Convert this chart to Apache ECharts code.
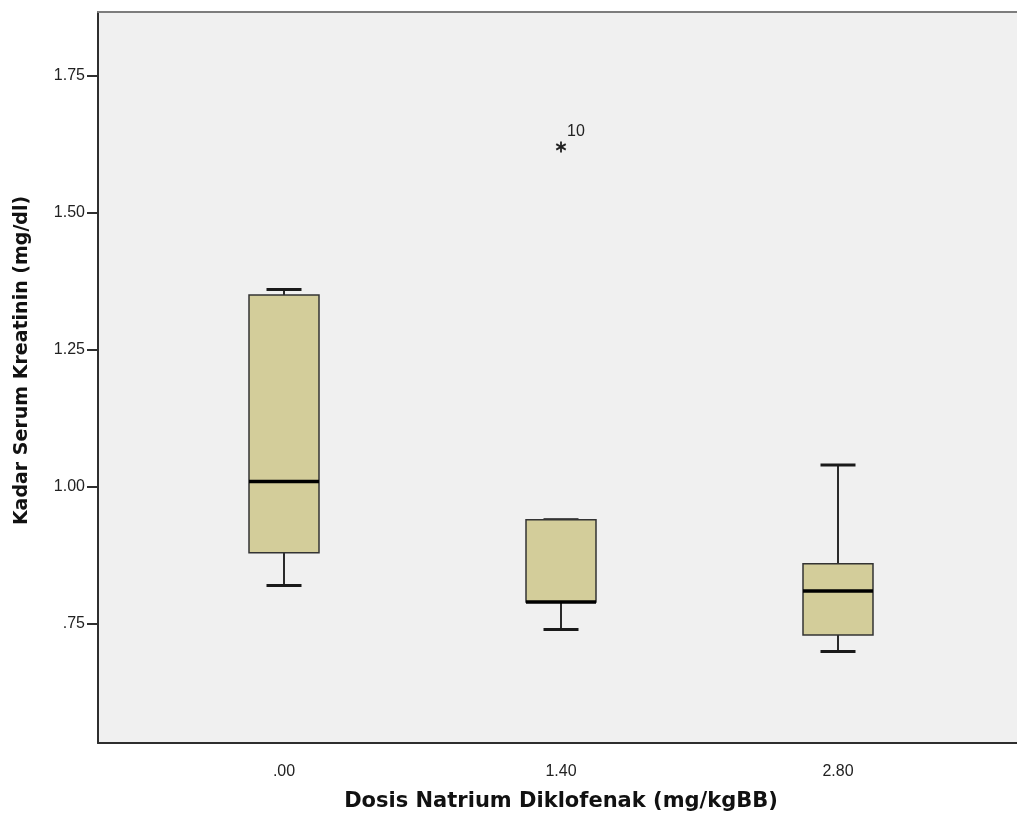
<!DOCTYPE html>
<html>
<head>
<meta charset="utf-8">
<script src="https://cdn.jsdelivr.net/npm/echarts@6/dist/echarts.min.js"></script>
<style>
  html, body { margin: 0; padding: 0; background: #ffffff; }
  #chart { width: 1017px; height: 823px; }
</style>
</head>
<body>
<div id="chart"></div>
<script>
// dose groups on the x axis
var categories = [".00", "1.40", "2.80"];
// box plot statistics per group (mg/dl)
var whiskerLow = [0.82, 0.74, 0.70];
var q1 = [0.88, 0.79, 0.73];
var median = [1.01, 0.79, 0.81];
var q3 = [1.35, 0.94, 0.86];
var whiskerHigh = [1.36, 0.94, 1.04];
// extreme values: group index, value, case label
var outlierGroup = [1];
var outlierValue = [1.62];
var outlierCase = ["10"];
// y axis tick labels
var yTicks = [0.75, 1.00, 1.25, 1.50, 1.75];
var yMin = 0.533;
var yMax = 1.866;

var font = "'Liberation Sans', Arial, sans-serif";
var titleFont = "'DejaVu Sans', Verdana, sans-serif";

var boxData = [];
for (var i = 0; i < categories.length; i++) {
  boxData.push([i, whiskerLow[i], q1[i], median[i], q3[i], whiskerHigh[i]]);
}
var outlierData = [];
for (var j = 0; j < outlierGroup.length; j++) {
  outlierData.push([outlierGroup[j], outlierValue[j], outlierCase[j]]);
}

var chart = echarts.init(document.getElementById("chart"));

var option = {
  animation: false,
  backgroundColor: "#ffffff",
  grid: [
    // frame of the plot
    { left: 98, top: 12, right: -10, bottom: 80, show: true, backgroundColor: "#f0f0f0", borderWidth: 0 },
    // boxes
    { left: 145.5, top: 12, width: 831, bottom: 80 }
  ],
  xAxis: [
    {
      gridIndex: 0, type: "value", min: 0, max: 1, position: "bottom",
      axisLine: { show: true, lineStyle: { color: "#2e2e2e", width: 2 } },
      axisTick: { show: false }, axisLabel: { show: false }, splitLine: { show: false }
    },
    {
      gridIndex: 1, type: "category", data: categories, boundaryGap: true,
      axisLine: { show: false }, axisTick: { show: false }, splitLine: { show: false },
      axisLabel: { fontFamily: font, fontSize: 16, color: "#222", margin: 21 },
      name: "Dosis Natrium Diklofenak (mg/kgBB)",
      nameLocation: "middle", nameGap: 48,
      nameTextStyle: { fontFamily: titleFont, fontSize: 21, fontWeight: "bold", color: "#111" }
    },
    {
      gridIndex: 0, type: "value", min: 0, max: 1, position: "top",
      axisLine: { show: true, lineStyle: { color: "#7d7d7d", width: 2 } },
      axisTick: { show: false }, axisLabel: { show: false }, splitLine: { show: false }
    }
  ],
  yAxis: [
    {
      gridIndex: 0, type: "value", min: yMin, max: yMax,
      axisLine: { show: true, lineStyle: { color: "#2e2e2e", width: 2 } },
      axisTick: { show: true, customValues: yTicks, length: 11, lineStyle: { color: "#2e2e2e", width: 2 } },
      axisLabel: {
        customValues: yTicks, fontFamily: font, fontSize: 16, color: "#222", margin: 13,
        formatter: function (v) { return v.toFixed(2).replace(/^0/, ""); }
      },
      splitLine: { show: false },
      name: "Kadar Serum Kreatinin (mg/dl)",
      nameLocation: "middle", nameGap: 66,
      nameTextStyle: { fontFamily: titleFont, fontSize: 19, fontWeight: "bold", color: "#111", padding: [0, 0, 0, 34] }
    },
    { gridIndex: 1, type: "value", min: yMin, max: yMax, show: false }
  ],
  series: [
    {
      type: "custom",
      xAxisIndex: 1, yAxisIndex: 1,
      data: boxData,
      encode: { x: 0, y: [1, 2, 3, 4, 5] },
      renderItem: function (params, api) {
        var x = api.value(0);
        var pLow = api.coord([x, api.value(1)]);
        var pQ1 = api.coord([x, api.value(2)]);
        var pMed = api.coord([x, api.value(3)]);
        var pQ3 = api.coord([x, api.value(4)]);
        var pHigh = api.coord([x, api.value(5)]);
        var cx = pMed[0];
        var half = 35, cap = 17.5;
        var stroke = { stroke: "#2a2a2a", lineWidth: 2 };
        return {
          type: "group",
          children: [
            { type: "line", shape: { x1: cx, y1: pHigh[1], x2: cx, y2: pQ3[1] }, style: stroke },
            { type: "line", shape: { x1: cx, y1: pQ1[1], x2: cx, y2: pLow[1] }, style: stroke },
            { type: "line", shape: { x1: cx - cap, y1: pHigh[1], x2: cx + cap, y2: pHigh[1] }, style: { stroke: "#1a1a1a", lineWidth: 3 } },
            { type: "line", shape: { x1: cx - cap, y1: pLow[1], x2: cx + cap, y2: pLow[1] }, style: { stroke: "#1a1a1a", lineWidth: 3 } },
            { type: "rect", shape: { x: cx - half, y: pQ3[1], width: half * 2, height: pQ1[1] - pQ3[1] },
              style: { fill: "#d3cd9a", stroke: "#333333", lineWidth: 1.5 } },
            { type: "line", shape: { x1: cx - half, y1: pMed[1], x2: cx + half, y2: pMed[1] }, style: { stroke: "#000000", lineWidth: 3.5 } }
          ]
        };
      }
    },
    {
      type: "custom",
      xAxisIndex: 1, yAxisIndex: 1,
      data: outlierData,
      encode: { x: 0, y: 1 },
      renderItem: function (params, api) {
        var p = api.coord([api.value(0), api.value(1)]);
        var r = 5.5;
        var kids = [];
        for (var k = 0; k < 3; k++) {
          var a = Math.PI / 2 + k * Math.PI / 3;
          kids.push({ type: "line",
            shape: { x1: p[0] - r * Math.cos(a), y1: p[1] - r * Math.sin(a), x2: p[0] + r * Math.cos(a), y2: p[1] + r * Math.sin(a) },
            style: { stroke: "#222", lineWidth: 1.8 } });
        }
        kids.push({ type: "text", x: p[0] + 6, y: p[1] - 15,
          style: { text: outlierCase[params.dataIndex], font: "16px " + font, fill: "#222", verticalAlign: "middle", align: "left" } });
        return { type: "group", children: kids };
      }
    }
  ]
};

chart.setOption(option);
</script>
</body>
</html>
